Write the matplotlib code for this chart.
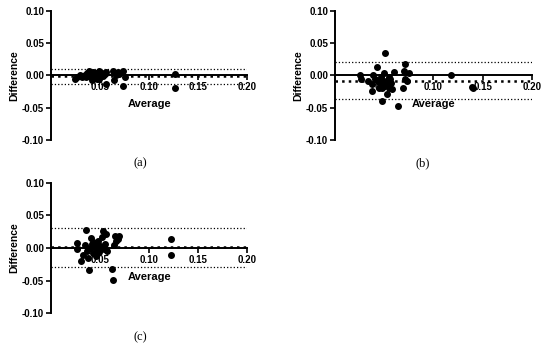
import numpy as np
import matplotlib
matplotlib.use('Agg')
import matplotlib.pyplot as plt

plt.rcParams['font.family'] = ['Liberation Sans', 'DejaVu Sans']
plt.rcParams['font.weight'] = 'bold'

# Panel (a)
avg_a = [0.024, 0.026, 0.029, 0.032, 0.035, 0.037, 0.039, 0.040, 0.041, 0.042,
         0.043, 0.044, 0.046, 0.047, 0.049, 0.051, 0.052, 0.049, 0.055, 0.056,
         0.056, 0.064, 0.063, 0.066, 0.068, 0.073, 0.073, 0.075, 0.069, 0.127,
         0.127, 0.038, 0.045, 0.048, 0.036, 0.053]
diff_a = [-0.006, -0.003, 0.001, -0.002, 0.0005, 0.004, 0.007, 0.002, -0.003, -0.007,
          0.006, -0.001, 0.003, -0.005, 0.007, 0.0005, 0.004, -0.006, 0.002, -0.013,
          0.006, -0.007, 0.007, 0.0005, 0.006, 0.007, -0.016, -0.003, 0.002, 0.002,
          -0.020, -0.001, 0.001, -0.002, -0.003, -0.001]
bias_a, upper_a, lower_a = -0.0015, 0.010, -0.013

# Panel (b)
avg_b = [0.025, 0.026, 0.034, 0.038, 0.038, 0.039, 0.041, 0.043, 0.044, 0.045,
         0.047, 0.048, 0.048, 0.049, 0.050, 0.051, 0.052, 0.053, 0.053, 0.055,
         0.055, 0.056, 0.057, 0.060, 0.058, 0.064, 0.069, 0.070, 0.071, 0.071,
         0.073, 0.075, 0.118, 0.139, 0.140, 0.050, 0.046, 0.054]
diff_b = [0.0, -0.005, -0.009, -0.013, -0.024, 0.0, -0.006, 0.0135, -0.008, -0.019,
          -0.002, -0.020, -0.040, -0.011, 0.004, 0.035, -0.008, -0.029, -0.015, -0.003,
          -0.019, -0.006, -0.0125, 0.006, -0.021, -0.048, -0.019, 0.007, 0.018, -0.006,
          -0.009, 0.003, 0.0, -0.018, -0.019, -0.017, -0.014, -0.010]
bias_b, upper_b, lower_b = -0.008, 0.020, -0.036

# Panel (c)
avg_c = [0.026, 0.026, 0.031, 0.033, 0.035, 0.036, 0.037, 0.038, 0.039, 0.040,
         0.041, 0.042, 0.043, 0.043, 0.045, 0.046, 0.047, 0.048, 0.048, 0.049,
         0.050, 0.052, 0.053, 0.054, 0.055, 0.056, 0.057, 0.062, 0.063, 0.064,
         0.065, 0.066, 0.068, 0.069, 0.122, 0.122]
diff_c = [0.008, -0.001, -0.020, -0.011, 0.004, 0.027, -0.005, -0.015, -0.034, 0.0,
          0.0145, 0.006, -0.008, 0.009, 0.001, -0.013, -0.004, 0.005, 0.010, -0.006,
          0.0025, 0.0165, 0.026, -0.001, 0.006, 0.022, -0.004, -0.032, -0.049, 0.005,
          0.018, 0.010, 0.014, 0.018, 0.013, -0.011]
bias_c, upper_c, lower_c = 0.001, 0.031, -0.029

x_ticks = [0.05, 0.10, 0.15, 0.20]
y_ticks = [-0.10, -0.05, 0.00, 0.05, 0.10]


def bland_altman(ax, avg, diff, bias, upper, lower):
    ax.hlines([upper, lower], 0, 0.2, colors='black', linestyles=':', linewidth=0.9)
    ax.hlines(bias, 0, 0.2, colors='black', linestyles=':', linewidth=1.8)
    ax.scatter(avg, diff, s=16, color='black', zorder=3, clip_on=False)
    ax.set_xlim(0, 0.2)
    ax.set_ylim(-0.1, 0.1)
    ax.spines['left'].set_linewidth(1.4)
    ax.spines['bottom'].set_position(('data', 0))
    ax.spines['bottom'].set_linewidth(1.4)
    ax.spines['top'].set_visible(False)
    ax.spines['right'].set_visible(False)
    ax.set_xticks(x_ticks)
    ax.set_xticklabels([f'{t:.2f}' for t in x_ticks])
    ax.set_yticks(y_ticks)
    ax.set_yticklabels([f'{t:.2f}' for t in y_ticks])
    ax.tick_params(axis='both', labelsize=7, width=1.2, length=3.5, pad=1.5)
    ax.set_xlabel('Average', fontsize=8, fontweight='bold', labelpad=5)
    ax.set_ylabel('Difference', fontsize=7.5, fontweight='bold', labelpad=2)


fig = plt.figure(figsize=(5.5, 3.49), dpi=100)
ax_a = fig.add_axes([0.093, 0.599, 0.356, 0.370])
ax_b = fig.add_axes([0.609, 0.599, 0.358, 0.370])
ax_c = fig.add_axes([0.093, 0.102, 0.356, 0.375])

bland_altman(ax_a, avg_a, diff_a, bias_a, upper_a, lower_a)
bland_altman(ax_b, avg_b, diff_b, bias_b, upper_b, lower_b)
bland_altman(ax_c, avg_c, diff_c, bias_c, upper_c, lower_c)

for x, y, s in [(0.255, 0.533, '(a)'), (0.769, 0.533, '(b)'), (0.255, 0.035, '(c)')]:
    fig.text(x, y, s, ha='center', va='center', fontsize=9,
             family='Liberation Serif', fontweight='normal')

fig.savefig('out.png', dpi=100)
